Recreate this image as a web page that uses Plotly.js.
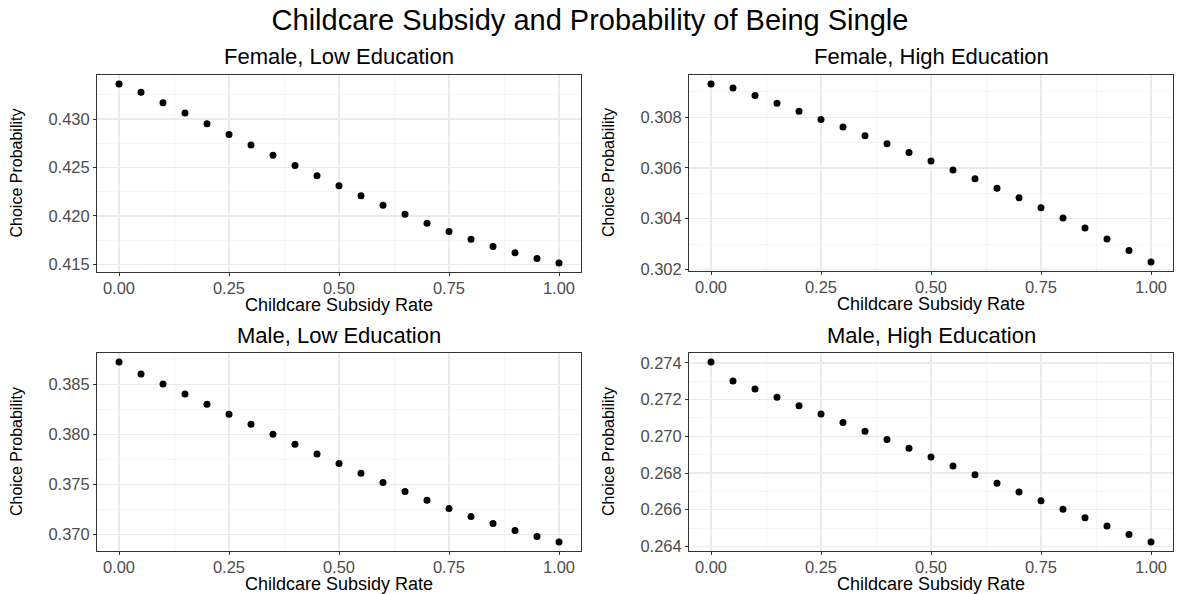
<!DOCTYPE html>
<html>
<head>
<meta charset="utf-8">
<script src="https://cdn.plot.ly/plotly-3.0.1.min.js"></script>
<style>
html,body{margin:0;padding:0;background:#fff;}
#chart{width:1180px;height:594px;}
</style>
</head>
<body>
<div id="chart"></div>
<script>
// ---- data ----
const subsidyRate = [0.00,0.05,0.10,0.15,0.20,0.25,0.30,0.35,0.40,0.45,0.50,0.55,0.60,0.65,0.70,0.75,0.80,0.85,0.90,0.95,1.00];

const femaleLow  = [0.43363,0.43277,0.43168,0.43062,0.42952,0.42842,0.42733,0.42627,0.42521,0.42414,0.42312,0.42209,0.42110,0.42017,0.41925,0.41839,0.41760,0.41685,0.41620,0.41562,0.41514];
const femaleHigh = [0.30931,0.30915,0.30885,0.30855,0.30823,0.30791,0.30761,0.30727,0.30695,0.30661,0.30627,0.30592,0.30557,0.30520,0.30482,0.30443,0.30403,0.30363,0.30320,0.30275,0.30229];
const maleLow    = [0.38723,0.38603,0.38503,0.38403,0.38300,0.38200,0.38100,0.38000,0.37900,0.37803,0.37707,0.37610,0.37517,0.37427,0.37340,0.37257,0.37177,0.37107,0.37037,0.36977,0.36923];
const maleHigh   = [0.27405,0.27302,0.27258,0.27213,0.27167,0.27122,0.27075,0.27027,0.26982,0.26935,0.26887,0.26838,0.26791,0.26744,0.26696,0.26649,0.26602,0.26556,0.26511,0.26465,0.26424];

const panelTitles = ["Female, Low Education","Female, High Education","Male, Low Education","Male, High Education"];
const mainTitle = "Childcare Subsidy and Probability of Being Single";
const xTitle = "Childcare Subsidy Rate";
const yTitle = "Choice Probability";
const xTicks = [0,0.25,0.5,0.75,1];
const yDticks = [0.005,0.002,0.005,0.002];

// ---- layout ----
const W = 1180, H = 594;
const FONT = "Liberation Sans, Arial, Helvetica, sans-serif";
const px = v => v / W;
const py = v => 1 - v / H;

// panel pixel boxes [left, right, top, bottom]
const boxes = [
  [97, 581, 75, 272],
  [689, 1173, 75, 271],
  [97, 581, 353, 551],
  [689, 1173, 353, 551]
];
const series = [femaleLow, femaleHigh, maleLow, maleHigh];

const data = [];
const layout = {
  width: W, height: H,
  margin: {l:0, r:0, t:0, b:0},
  paper_bgcolor: "#ffffff",
  plot_bgcolor: "#ffffff",
  showlegend: false,
  font: {family: FONT, color: "#000"},
  title: {text: mainTitle, font: {family: FONT, size: 29, color: "#000"}, x: 0.5, xanchor: "center", y: py(20), yanchor: "middle", yref: "paper"},
  annotations: []
};

function expand(arr) {
  const mn = Math.min(...arr), mx = Math.max(...arr);
  const pad = (mx - mn) * 0.05;
  return [mn - pad, mx + pad];
}

series.forEach((ys, i) => {
  const n = i + 1;
  const xa = n === 1 ? "x" : "x" + n;
  const ya = n === 1 ? "y" : "y" + n;
  const xk = n === 1 ? "xaxis" : "xaxis" + n;
  const yk = n === 1 ? "yaxis" : "yaxis" + n;
  const [l, r, t, b] = boxes[i];
  data.push({
    type: "scatter", mode: "markers",
    x: subsidyRate, y: ys, xaxis: xa, yaxis: ya,
    marker: {color: "#000", size: 7},
    hoverinfo: "x+y"
  });
  const common = {
    showline: true, mirror: true, linecolor: "#333333", linewidth: 1,
    ticks: "outside", ticklen: 3, tickcolor: "#333333", tickwidth: 1,
    showgrid: true, gridcolor: "#EBEBEB", gridwidth: 1.3,
    zeroline: false,
    tickfont: {family: FONT, size: 16.5, color: "#4D4D4D"}
  };
  layout[xk] = Object.assign({}, common, {
    domain: [px(l), px(r)],
    anchor: ya,
    range: [-0.05, 1.05],
    tickvals: xTicks,
    tickformat: ".2f",
    ticklabelstandoff: -2,
    minor: {dtick: 0.125, tick0: 0.125, showgrid: true, gridcolor: "#F2F2F2", gridwidth: 0.7, ticks: ""}
  });
  layout[yk] = Object.assign({}, common, {
    domain: [py(b), py(t)],
    anchor: xa,
    range: expand(ys),
    dtick: yDticks[i],
    tick0: 0,
    tickformat: ".3f",
    minor: {dtick: yDticks[i] / 2, showgrid: true, gridcolor: "#F2F2F2", gridwidth: 0.7, ticks: ""}
  });
  // panel title
  layout.annotations.push({
    text: panelTitles[i], xref: "paper", yref: "paper",
    x: px((l + r) / 2), y: py(t - 18), xanchor: "center", yanchor: "middle",
    showarrow: false, font: {family: FONT, size: 22, color: "#000"}
  });
  // x axis title
  layout.annotations.push({
    text: xTitle, xref: "paper", yref: "paper",
    x: px((l + r) / 2), y: py(b + 33), xanchor: "center", yanchor: "middle",
    showarrow: false, font: {family: FONT, size: 18, color: "#000"}
  });
  // y axis title
  layout.annotations.push({
    text: yTitle, xref: "paper", yref: "paper",
    x: px(l - 81), y: py((t + b) / 2), xanchor: "center", yanchor: "middle",
    textangle: -90,
    showarrow: false, font: {family: FONT, size: 16, color: "#000"}
  });
});

Plotly.newPlot("chart", data, layout, {displayModeBar: false, staticPlot: true});
</script>
</body>
</html>
